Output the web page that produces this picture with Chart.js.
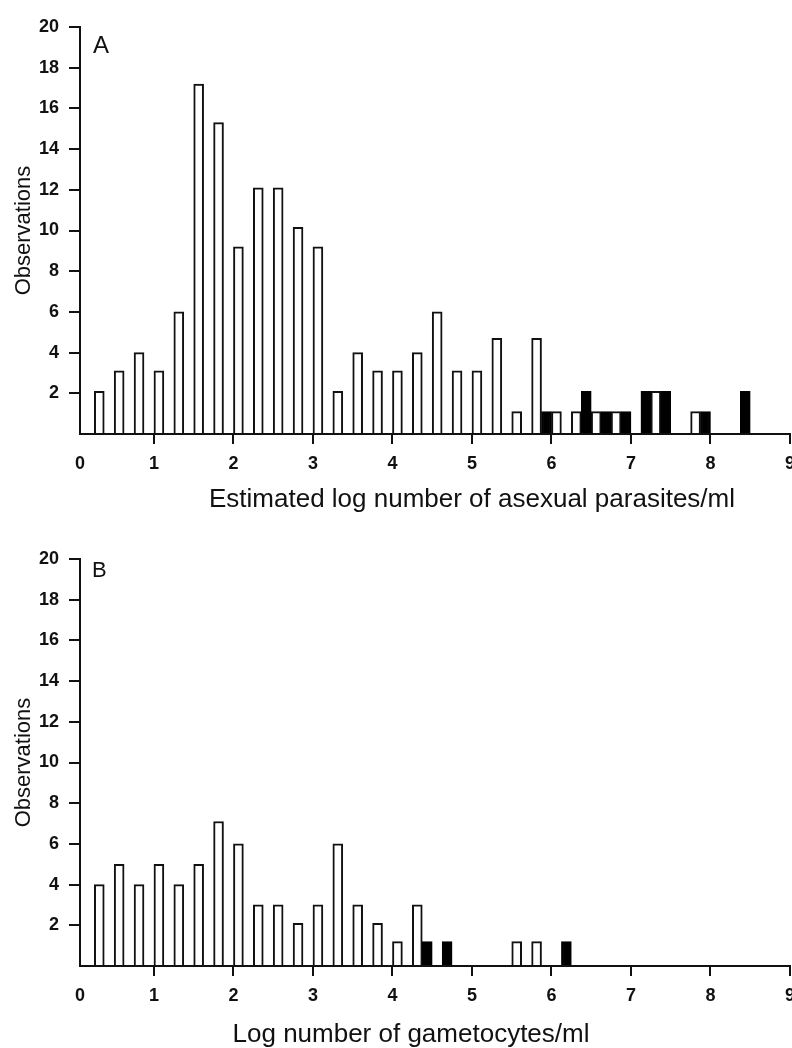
<!DOCTYPE html>
<html>
<head>
<meta charset="utf-8">
<script src="https://cdn.jsdelivr.net/npm/chart.js@4.4.1/dist/chart.umd.min.js"></script>
<style>
  html, body { margin: 0; padding: 0; background: #fff; }
  #wrap { position: relative; width: 792px; height: 1048px; }
  canvas { position: absolute; left: 0; }
  #chartA { top: 0; }
  #chartB { top: 532px; }
</style>
</head>
<body>
<div id="wrap">
  <canvas id="chartA" width="792" height="524"></canvas>
  <canvas id="chartB" width="792" height="516"></canvas>
</div>
<script>
// bin centres, log units (bins 0.25 wide)
const bins = [0.25, 0.5, 0.75, 1, 1.25, 1.5, 1.75, 2, 2.25, 2.5, 2.75, 3,
              3.25, 3.5, 3.75, 4, 4.25, 4.5, 4.75, 5, 5.25, 5.5, 5.75, 6,
              6.25, 6.5, 6.75, 7, 7.25, 7.5, 7.75, 8, 8.25, 8.5, 8.75];
const xTickLabels = ['0', '1', '2', '3', '4', '5', '6', '7', '8', '9'];

// panel A - asexual parasites (open = white bars, filled = black bars)
const asexualOpen = [2.1, 3.1, 4.0, 3.1, 6.0, 17.2, 15.3, 9.2, 12.1, 12.1,
                     10.15, 9.2, 2.1, 4.0, 3.1, 3.1, 4.0, 6.0, 3.1, 3.1,
                     4.7, 1.1, 4.7, 1.1, 1.1, 1.1, 1.1, 0, 2.1, 0,
                     1.1, 0, 0, 0, 0];
const asexualFilled = [0, 0, 0, 0, 0, 0, 0, 0, 0, 0,
                       0, 0, 0, 0, 0, 0, 0, 0, 0, 0,
                       0, 0, 0, 1.1, 0, 2.1, 1.1, 1.1, 2.1, 2.1,
                       0, 1.1, 0, 2.1, 0];

// panel B - gametocytes
const gametOpen = [4.0, 5.0, 4.0, 5.0, 4.0, 5.0, 7.1, 6.0, 3.0, 3.0,
                   2.1, 3.0, 6.0, 3.0, 2.1, 1.2, 3.0, 0, 0, 0,
                   0, 1.2, 1.2, 0, 0, 0, 0, 0, 0, 0,
                   0, 0, 0, 0, 0];
const gametFilled = [0, 0, 0, 0, 0, 0, 0, 0, 0, 0,
                     0, 0, 0, 0, 0, 0, 0, 1.2, 1.2, 0,
                     0, 0, 0, 0, 1.2, 0, 0, 0, 0, 0,
                     0, 0, 0, 0, 0];

const INK = '#111';
const FAMILY = '"Liberation Sans", Arial, sans-serif';
const X_START = 0.07; // original axis starts just right of zero
const NONE = 'rgba(0,0,0,0)';

// panel letter + x axis title (the title sits off-centre in the original)
const panelText = {
  id: 'panelText',
  afterDraw(chart, args, opts) {
    const ctx = chart.ctx;
    ctx.save();
    ctx.fillStyle = INK;
    ctx.textBaseline = 'alphabetic';
    ctx.textAlign = 'left';
    ctx.font = opts.letterSize + 'px ' + FAMILY;
    ctx.fillText(opts.letter, opts.letterX, opts.letterY);
    ctx.textAlign = 'center';
    ctx.font = '26px ' + FAMILY;
    ctx.fillText(opts.title, opts.titleX, opts.titleY);
    ctx.restore();
  }
};

function toPoints(values) {
  return values.map((v, i) => ({ x: bins[i], y: v }));
}

function makeChart(id, openVals, filledVals, xAxisHeight, text) {
  const tickFont = { family: FAMILY, size: 18, weight: 'bold' };
  return new Chart(document.getElementById(id), {
    type: 'bar',
    data: {
      datasets: [
        {
          data: toPoints(filledVals),
          backgroundColor: '#000',
          borderColor: '#000',
          borderWidth: 2
        },
        {
          data: toPoints(openVals),
          backgroundColor: '#fff',
          borderColor: INK,
          borderWidth: 2
        }
      ]
    },
    options: {
      responsive: false,
      animation: false,
      categoryPercentage: 1,
      barPercentage: 1,
      layout: { padding: { top: 27, right: 2, left: 0, bottom: 0 } },
      plugins: {
        legend: { display: false },
        tooltip: { enabled: false },
        panelText: text
      },
      scales: {
        x: {
          type: 'linear',
          min: X_START,
          max: 9,
          offset: false,
          afterBuildTicks: s => {
            s.ticks = xTickLabels.map((t, i) => ({ value: i === 0 ? X_START : i }));
          },
          afterFit: s => {
            s.height = xAxisHeight;
            s.paddingLeft = 0;
            s.paddingRight = 0;
          },
          grid: {
            drawOnChartArea: false,
            offset: false,
            tickLength: 10,
            lineWidth: 2,
            tickColor: c => c.index === 0 ? NONE : INK
          },
          border: { color: INK, width: 2 },
          ticks: {
            color: INK,
            font: tickFont,
            padding: 9,
            maxRotation: 0,
            autoSkip: false,
            callback: (v, i) => xTickLabels[i]
          }
        },
        y: {
          min: 0,
          max: 20,
          afterFit: s => {
            s.width = 80;
            s.paddingTop = 0;
            s.paddingBottom = 0;
          },
          grid: {
            drawOnChartArea: false,
            tickLength: 11,
            lineWidth: 2,
            tickColor: c => (c.tick && c.tick.value === 0) ? NONE : INK
          },
          border: { color: INK, width: 2 },
          ticks: {
            stepSize: 2,
            color: INK,
            font: tickFont,
            padding: 10,
            callback: v => v === 0 ? '' : v
          },
          title: {
            display: true,
            text: 'Observations',
            color: INK,
            font: { family: FAMILY, size: 22 },
            padding: { top: 11, bottom: 0 }
          }
        }
      }
    },
    plugins: [panelText]
  });
}

makeChart('chartA', asexualOpen, asexualFilled, 90, {
  letter: 'A', letterSize: 24, letterX: 93, letterY: 53,
  title: 'Estimated log number of asexual parasites/ml', titleX: 472, titleY: 507
});

makeChart('chartB', gametOpen, gametFilled, 82, {
  letter: 'B', letterSize: 22, letterX: 92, letterY: 45,
  title: 'Log number of gametocytes/ml', titleX: 411, titleY: 510
});
</script>
</body>
</html>
